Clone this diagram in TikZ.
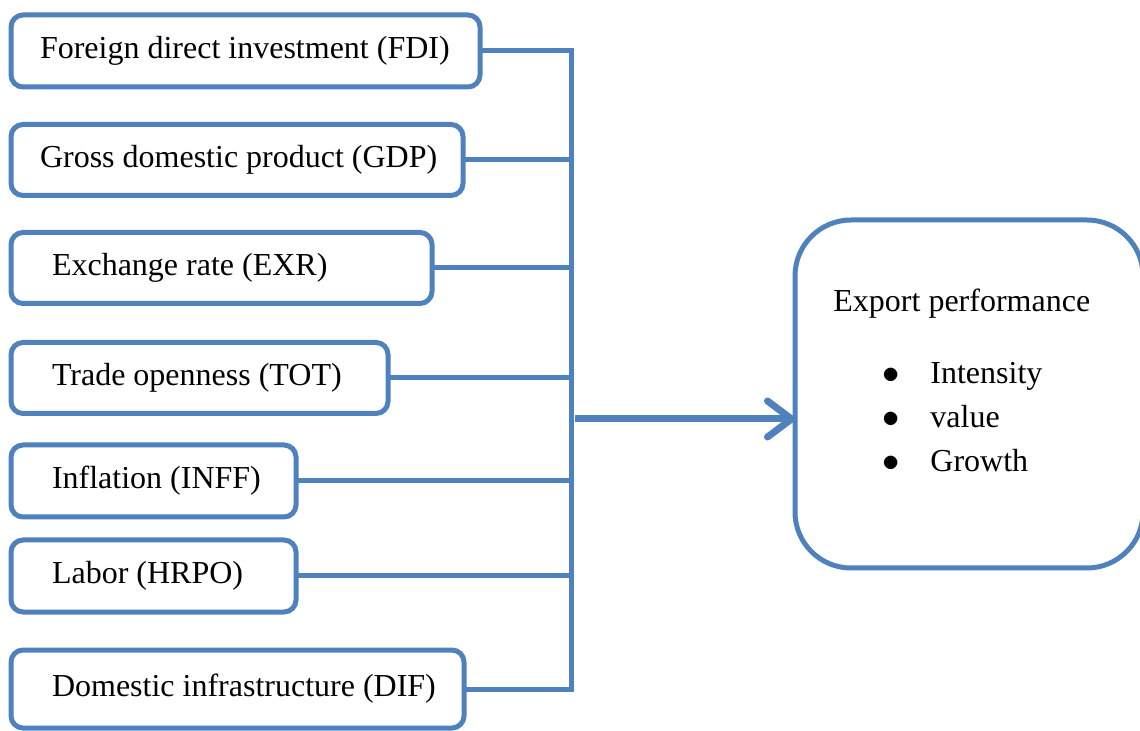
\documentclass[tikz,border=0pt]{standalone}
\usepackage{fontspec}
\setmainfont{Liberation Serif}
\usepackage{tikz}
\usetikzlibrary{arrows.meta,positioning}
\definecolor{linkblue}{RGB}{79,129,189}

\begin{document}
\begin{tikzpicture}[x=0.5pt,y=-0.5pt,
  factor/.style={draw=linkblue, line width=2.5pt, rounded corners=6pt, outer sep=0pt, inner ysep=0pt, font=\fontsize{16}{19}\selectfont},
  outcome/.style={draw=linkblue, line width=2.5pt, rounded corners=28pt, outer sep=0pt, inner sep=0pt},
  link/.style={draw=linkblue, line width=2.5pt},
  feed/.style={draw=linkblue, line width=3.5pt, -{Straight Barb[length=12pt,width=18pt,round]}}]
\useasboundingbox (0,0) rectangle (1140,731);
\clip (0,0) rectangle (1140,731);
\coordinate (bus) at (571,0);
% determinants on the left
\foreach \name/\txt/\w/\h/\y/\ind [evaluate=\w as \tw using (\w-2*\ind)/2, evaluate=\ind as \ix using \ind/2, evaluate=\h as \hh using \h/2] in {
  fdi/{Foreign direct investment (FDI)}/469/72/51/29,
  gdp/{Gross domestic product (GDP)}/452/71/160/29,
  exr/{Exchange rate (EXR)}/421/71/268/41,
  tot/{Trade openness (TOT)}/377/71/378/41,
  inff/{Inflation (INFF)}/285/72/481/41,
  hrpo/{Labor (HRPO)}/285/72/576/41,
  dif/{Domestic infrastructure (DIF)}/453/78/689/41
} {
  \node[factor, anchor=west, inner xsep=\ix pt, minimum height=\hh pt] (\name) at (11,\y) {\makebox[\tw pt][l]{\txt}};
}
\draw[link] (fdi.east) -| (dif.east -| bus) -- (dif.east);
\foreach \name in {gdp,exr,tot,inff,hrpo} {
  \draw[link] (\name.east) -- (\name.east -| bus);
}
% outcome
\node[outcome, anchor=north west, minimum width=174pt, minimum height=174pt] (export) at (795,220) {};
\node[anchor=north west, inner sep=0pt, align=left, font=\fontsize{16}{22}\selectfont] (exporttxt) at (833,289) {Export performance\\[14pt]
  \hspace*{24.5pt}\makebox[24pt][l]{$\bullet$}Intensity\\
  \hspace*{24.5pt}\makebox[24pt][l]{$\bullet$}value\\
  \hspace*{24.5pt}\makebox[24pt][l]{$\bullet$}Growth};
\coordinate (split) at (575,419);
\draw[feed] (split) -- (split -| export.west);
\end{tikzpicture}
\end{document}
